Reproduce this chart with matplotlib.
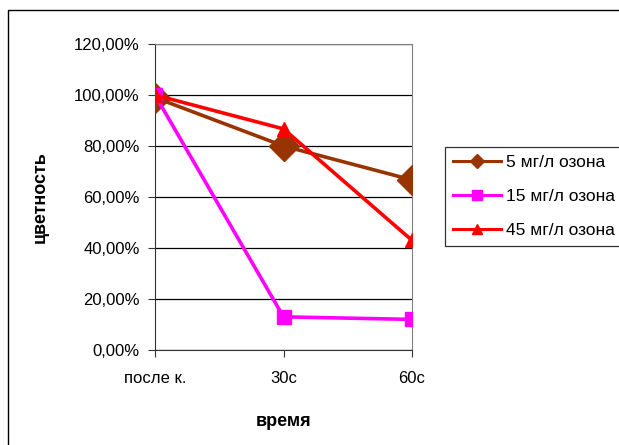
import matplotlib.pyplot as plt
import matplotlib.patches as patches
from matplotlib.lines import Line2D
from matplotlib.ticker import FuncFormatter

plt.rcParams['font.family'] = ['Liberation Sans', 'DejaVu Sans']

categories = ['после к.', '30с', '60с']
ozone_5 = [0.99, 0.80, 0.667]
ozone_15 = [1.00, 0.13, 0.12]
ozone_45 = [1.00, 0.867, 0.43]
labels = ['5 мг/л озона', '15 мг/л озона', '45 мг/л озона']
colors = ['#993300', '#FF00FF', '#FF0000']
markers = ['D', 's', '^']

W, H = 619, 445
fig = plt.figure(figsize=(W / 100, H / 100), dpi=100)

# outer chart frame (cut off right and bottom like the reference)
fig.patches.append(patches.Rectangle((8 / W, -0.1), 1.2, 1 - 10 / H + 0.1,
                                     transform=fig.transFigure, fill=False,
                                     edgecolor='black', linewidth=1.0))

ax = fig.add_axes([155 / W, 1 - 350 / H, (412 - 155) / W, (350 - 44) / H])
x = range(len(categories))

ax.plot(x, ozone_5, color=colors[0], lw=2.6, marker='D', ms=15, zorder=3)
ax.plot(x, ozone_15, color=colors[1], lw=2.6, marker='s', ms=9.5, zorder=3)
ax.plot(x, ozone_45, color=colors[2], lw=2.6, marker='^', ms=9.5, zorder=4)

ax.set_xlim(0, 2)
ax.set_ylim(0, 1.2)
ax.set_yticks([0, 0.2, 0.4, 0.6, 0.8, 1.0, 1.2])
ax.yaxis.set_major_formatter(FuncFormatter(lambda v, p: f'{v * 100:.2f}%'.replace('.', ',')))
ax.set_xticks(list(x))
ax.set_xticklabels(categories)
ax.grid(axis='y', color='black', lw=0.9)
ax.set_axisbelow(True)
for s in ['top', 'right']:
    ax.spines[s].set_color('#808080')
for s in ['left', 'bottom']:
    ax.spines[s].set_color('#333333')
ax.tick_params(direction='out', length=5, labelsize=12, color='#333333')
ax.tick_params(axis='y', pad=6)
ax.tick_params(axis='x', pad=10)

ax.set_ylabel('цветность', fontsize=13, fontweight='bold')
ax.yaxis.set_label_coords(-0.415, 0.5)
ax.set_xlabel('время', fontsize=13, fontweight='bold')
ax.xaxis.set_label_coords(0.5, -0.205)

handles = [Line2D([], [], color=c, lw=2.2, marker=m, ms=7.5) for c, m in zip(colors, markers)]
leg = fig.legend(handles, labels, loc='upper left', bbox_to_anchor=(445 / W, 1 - 147 / H),
                 frameon=True, fancybox=False, edgecolor='black',
                 fontsize=12.5, handlelength=2.75, handletextpad=0.3,
                 borderaxespad=0, borderpad=0.45, labelspacing=1.1)
leg.get_frame().set_linewidth(0.9)

fig.savefig('out.png', dpi=100)
